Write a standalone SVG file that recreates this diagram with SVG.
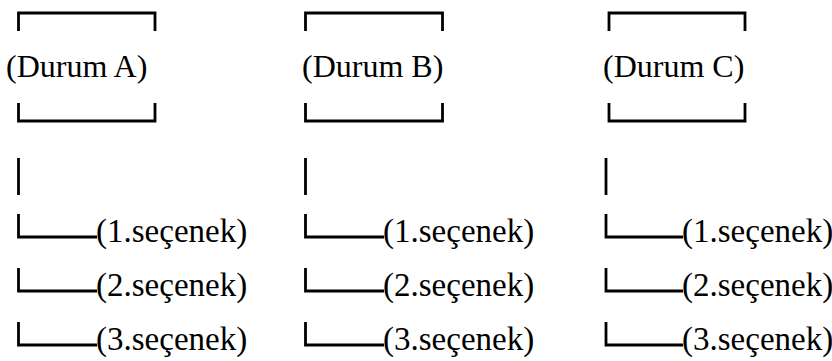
<svg xmlns="http://www.w3.org/2000/svg" width="832" height="361" viewBox="0 0 832 361">
<style>
.ln{fill:none;stroke:#000;stroke-width:2.8;stroke-linecap:butt;stroke-linejoin:miter}
.h{font-family:'Liberation Serif','Times New Roman',Times,serif;font-size:32px;fill:#000}
.o{font-family:'Liberation Serif','Times New Roman',Times,serif;font-size:33px;fill:#000}
</style>
<rect width="832" height="361" fill="#fff"/>
<g id="durumA">
<path class="ln" d="M18.5,31 V13 H155 V31 M18.5,103 V121 H155 V103"/>
<text class="h" x="6" y="77">(Durum A)</text>
</g>
<g id="durumB">
<path class="ln" d="M305.5,31 V13 H442.5 V31 M305.5,103 V121 H442.5 V103"/>
<text class="h" x="302" y="77">(Durum B)</text>
</g>
<g id="durumC">
<path class="ln" d="M609,31 V13 H745 V31 M609,103 V121 H745 V103"/>
<text class="h" x="603" y="77">(Durum C)</text>
</g>
<g id="secenekA">
<text class="o" x="96" y="242">(1.seçenek)</text>
<text class="o" x="96" y="296">(2.seçenek)</text>
<text class="o" x="96" y="350">(3.seçenek)</text>
</g>
<g id="secenekB">
<text class="o" x="383" y="242">(1.seçenek)</text>
<text class="o" x="383" y="296">(2.seçenek)</text>
<text class="o" x="383" y="350">(3.seçenek)</text>
</g>
<g id="secenekC">
<text class="o" x="682" y="242">(1.seçenek)</text>
<text class="o" x="682" y="296">(2.seçenek)</text>
<text class="o" x="682" y="350">(3.seçenek)</text>
</g>
<g id="connectors">
<path class="ln" d="M18.5,158 V195 M18.5,214 V237 H97 M18.5,268 V291 H97 M18.5,322 V345 H97"/>
<path class="ln" d="M305.5,158 V195 M305.5,214 V237 H384 M305.5,268 V291 H384 M305.5,322 V345 H384"/>
<path class="ln" d="M606,158 V195 M606,214 V237 H683 M606,268 V291 H683 M606,322 V345 H683"/>
</g>
</svg>
